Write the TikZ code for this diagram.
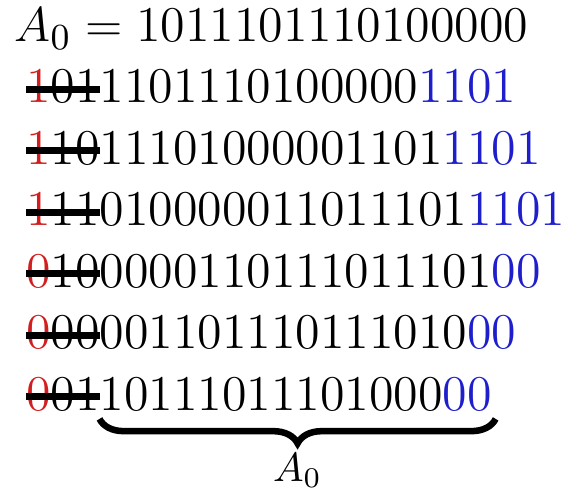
\documentclass[tikz,border=0pt]{standalone}
\usetikzlibrary{positioning,decorations.pathreplacing}

\begin{document}
\begin{tikzpicture}[
  font=\fontsize{12.25pt}{15pt}\selectfont,
  bits/.style={inner sep=0pt, outer sep=0pt, text height=7.9pt, text depth=0pt},
  tail/.style={bits, text=tailblue},
  strike/.style={line width=1.7pt, black},
  brace/.style={decorate, decoration={brace, mirror, amplitude=6pt}, line width=1.6pt},
]
\definecolor{headred}{RGB}{210,30,30}
\definecolor{tailblue}{RGB}{30,30,205}
\useasboundingbox (0,0) rectangle (138.9pt,-119.5pt);

\node[inner sep=0pt, anchor=base west] (a0) at (3.4pt,-10.29pt) {$A_0 = \mbox{1011101110100000}$};

% ---- rows: struck head, kept word, appended tail ----
\node[bits, anchor=base west] (s1) at (6.37pt,-25.22pt) {\textcolor{headred}{1}01};
\node[bits, right=0pt of s1] (b1) {1101110100000};
\node[tail, right=0pt of b1] (c1) {1101};

\node[bits, below=7.16pt of s1] (s2) {\textcolor{headred}{1}10};
\node[bits, right=0pt of s2] (b2) {11101000001101};
\node[tail, right=0pt of b2] (c2) {1101};

\node[bits, below=7.16pt of s2] (s3) {\textcolor{headred}{1}11};
\node[bits, right=0pt of s3] (b3) {010000011011101};
\node[tail, right=0pt of b3] (c3) {1101};

\node[bits, below=7.16pt of s3] (s4) {\textcolor{headred}{0}10};
\node[bits, right=0pt of s4] (b4) {0000110111011101};
\node[tail, right=0pt of b4] (c4) {00};

\node[bits, below=7.16pt of s4] (s5) {\textcolor{headred}{0}00};
\node[bits, right=0pt of s5] (b5) {001101110111010};
\node[tail, right=0pt of b5] (c5) {00};

\node[bits, below=7.16pt of s5] (s6) {\textcolor{headred}{0}01};
\node[bits, right=0pt of s6] (b6) {10111011101000};
\node[tail, right=0pt of b6] (c6) {00};

% ---- strike-through of the deleted heads ----
\draw[strike] ([yshift=-0.6pt]s1.west) -- ([yshift=-0.6pt]s1.east);
\draw[strike] ([yshift=-0.6pt]s2.west) -- ([yshift=-0.6pt]s2.east);
\draw[strike] ([yshift=-0.6pt]s3.west) -- ([yshift=-0.6pt]s3.east);
\draw[strike] ([yshift=-0.6pt]s4.west) -- ([yshift=-0.6pt]s4.east);
\draw[strike] ([yshift=-0.6pt]s5.west) -- ([yshift=-0.6pt]s5.east);
\draw[strike] ([yshift=-0.6pt]s6.west) -- ([yshift=-0.6pt]s6.east);

% ---- brace back to A_0 ----
\draw[brace] ([yshift=-2.1pt]b6.south west) -- ([xshift=1pt,yshift=-2.1pt]c6.south east)
  node[midway, below=7.7pt, inner sep=0pt, font=\normalsize] (lbl) {$A_0$};
\end{tikzpicture}
\end{document}
